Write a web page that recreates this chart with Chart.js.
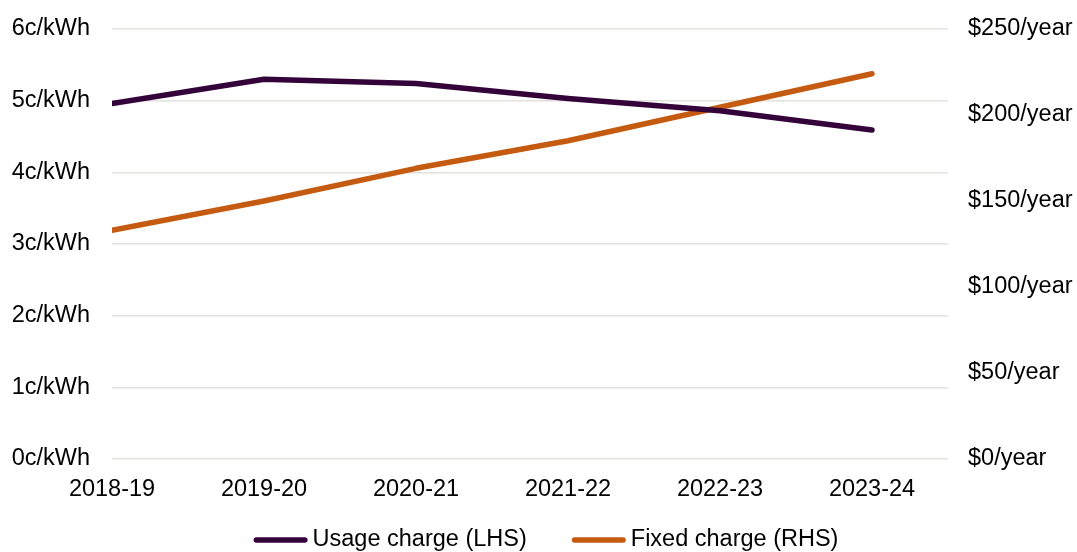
<!DOCTYPE html>
<html>
<head>
<meta charset="utf-8">
<script src="https://cdn.jsdelivr.net/npm/chart.js@4/dist/chart.umd.min.js"></script>
<style>
  html, body { margin: 0; padding: 0; background: #ffffff; overflow: hidden; }
  #wrap { width: 1077px; height: 552px; position: relative; overflow: hidden; }
  #chart { display: block; }
</style>
</head>
<body>
<div id="wrap"><canvas id="chart"></canvas></div>
<script>
// Financial years on the horizontal axis
const years = ['2018-19', '2019-20', '2020-21', '2021-22', '2022-23', '2023-24'];

// Usage charge, cents per kWh (left axis)
const usageCharge = [4.96, 5.30, 5.24, 5.03, 4.86, 4.59];

// Fixed charge, dollars per year (right axis)
const fixedCharge = [133, 150, 169, 185, 204.5, 224];

// Axis tick values
const leftTicks = [0, 1, 2, 3, 4, 5, 6];
const rightTicks = [0, 50, 100, 150, 200, 250];

const FONT = '"Liberation Sans", Arial, sans-serif';
const FONT_SIZE = 23.5;
const PURPLE = '#33033a';
const ORANGE = '#c55a11';
const GRID = '#e4e0dc';

// Draws the legend as short line swatches followed by the series name
const lineLegend = {
  id: 'lineLegend',
  afterDraw(chart, args, opts) {
    const ctx = chart.ctx;
    ctx.save();
    ctx.font = `${opts.size}px ${opts.family}`;
    const items = chart.data.datasets.map(d => ({
      text: d.label,
      color: d.borderColor,
      w: ctx.measureText(d.label).width
    }));
    const total = items.reduce((s, it) => s + opts.lineLength + opts.gap + it.w, 0)
      + opts.spacing * (items.length - 1);
    let x = opts.centerX - total / 2;
    const y = opts.y;
    items.forEach(it => {
      ctx.strokeStyle = it.color;
      ctx.lineWidth = opts.lineWidth;
      ctx.lineCap = 'round';
      ctx.beginPath();
      ctx.moveTo(x + opts.lineWidth / 2, y);
      ctx.lineTo(x + opts.lineLength - opts.lineWidth / 2, y);
      ctx.stroke();
      x += opts.lineLength + opts.gap;
      ctx.fillStyle = opts.color;
      ctx.textBaseline = 'middle';
      ctx.textAlign = 'left';
      ctx.fillText(it.text, x, y);
      x += it.w + opts.spacing;
    });
    ctx.restore();
  }
};

// Lets the right-hand tick labels run to the canvas edge without being clipped
const labelRoom = {
  id: 'labelRoom',
  afterLayout(chart) {
    const s = chart.scales.yRight;
    if (s) { s.right = chart.width + 60; }
  }
};

// Keep vertical axes from reserving extra space above and below the plot
const noEdgePadding = s => { s.paddingTop = 0; s.paddingBottom = 0; };

const ctx = document.getElementById('chart').getContext('2d');
new Chart(ctx, {
  type: 'line',
  data: {
    datasets: [
      {
        label: 'Usage charge (LHS)',
        data: usageCharge.map((v, i) => ({ x: i, y: v })),
        borderColor: PURPLE,
        backgroundColor: PURPLE,
        borderWidth: 5.5,
        borderCapStyle: 'round',
        borderJoinStyle: 'round',
        pointRadius: 0,
        tension: 0,
        yAxisID: 'yLeft'
      },
      {
        label: 'Fixed charge (RHS)',
        data: fixedCharge.map((v, i) => ({ x: i, y: v })),
        borderColor: ORANGE,
        backgroundColor: ORANGE,
        borderWidth: 5.5,
        borderCapStyle: 'round',
        borderJoinStyle: 'round',
        pointRadius: 0,
        tension: 0,
        yAxisID: 'yRight'
      }
    ]
  },
  options: {
    responsive: true,
    maintainAspectRatio: false,
    animation: false,
    events: [],
    layout: { padding: { top: 29, bottom: 30, left: 0, right: 0 } },
    plugins: {
      legend: { display: false },
      tooltip: { enabled: false },
      lineLegend: {
        centerX: 546,
        y: 540,
        lineLength: 54,
        lineWidth: 5.5,
        gap: 5,
        spacing: 45,
        size: FONT_SIZE,
        family: FONT,
        color: '#000000'
      }
    },
    scales: {
      x: {
        type: 'linear',
        min: 0,
        max: 5.5,
        afterBuildTicks: s => { s.ticks = years.map((_, i) => ({ value: i })); },
        afterFit: s => { s.height = 63; },
        grid: { display: false, drawTicks: false },
        border: { display: false },
        ticks: {
          padding: 16,
          maxRotation: 0,
          autoSkip: false,
          color: '#000000',
          font: { family: FONT, size: FONT_SIZE },
          callback: v => years[v]
        }
      },
      yLeft: {
        type: 'linear',
        position: 'left',
        min: 0,
        max: 6,
        afterBuildTicks: s => { s.ticks = leftTicks.map(v => ({ value: v })); },
        afterFit: s => { s.width = 112; noEdgePadding(s); },
        grid: { color: GRID, lineWidth: 1.5, drawTicks: false },
        border: { display: false },
        ticks: {
          padding: 22,
          color: '#000000',
          font: { family: FONT, size: FONT_SIZE },
          callback: v => v + 'c/kWh'
        }
      },
      yRight: {
        type: 'linear',
        position: 'right',
        min: 0,
        max: 250,
        afterBuildTicks: s => { s.ticks = rightTicks.map(v => ({ value: v })); },
        afterFit: s => { s.width = 129; noEdgePadding(s); },
        grid: { display: false, drawTicks: false },
        border: { display: false },
        ticks: {
          padding: 20,
          color: '#000000',
          font: { family: FONT, size: FONT_SIZE },
          callback: v => '$' + v + '/year'
        }
      }
    }
  },
  plugins: [lineLegend, labelRoom]
});
</script>
</body>
</html>
